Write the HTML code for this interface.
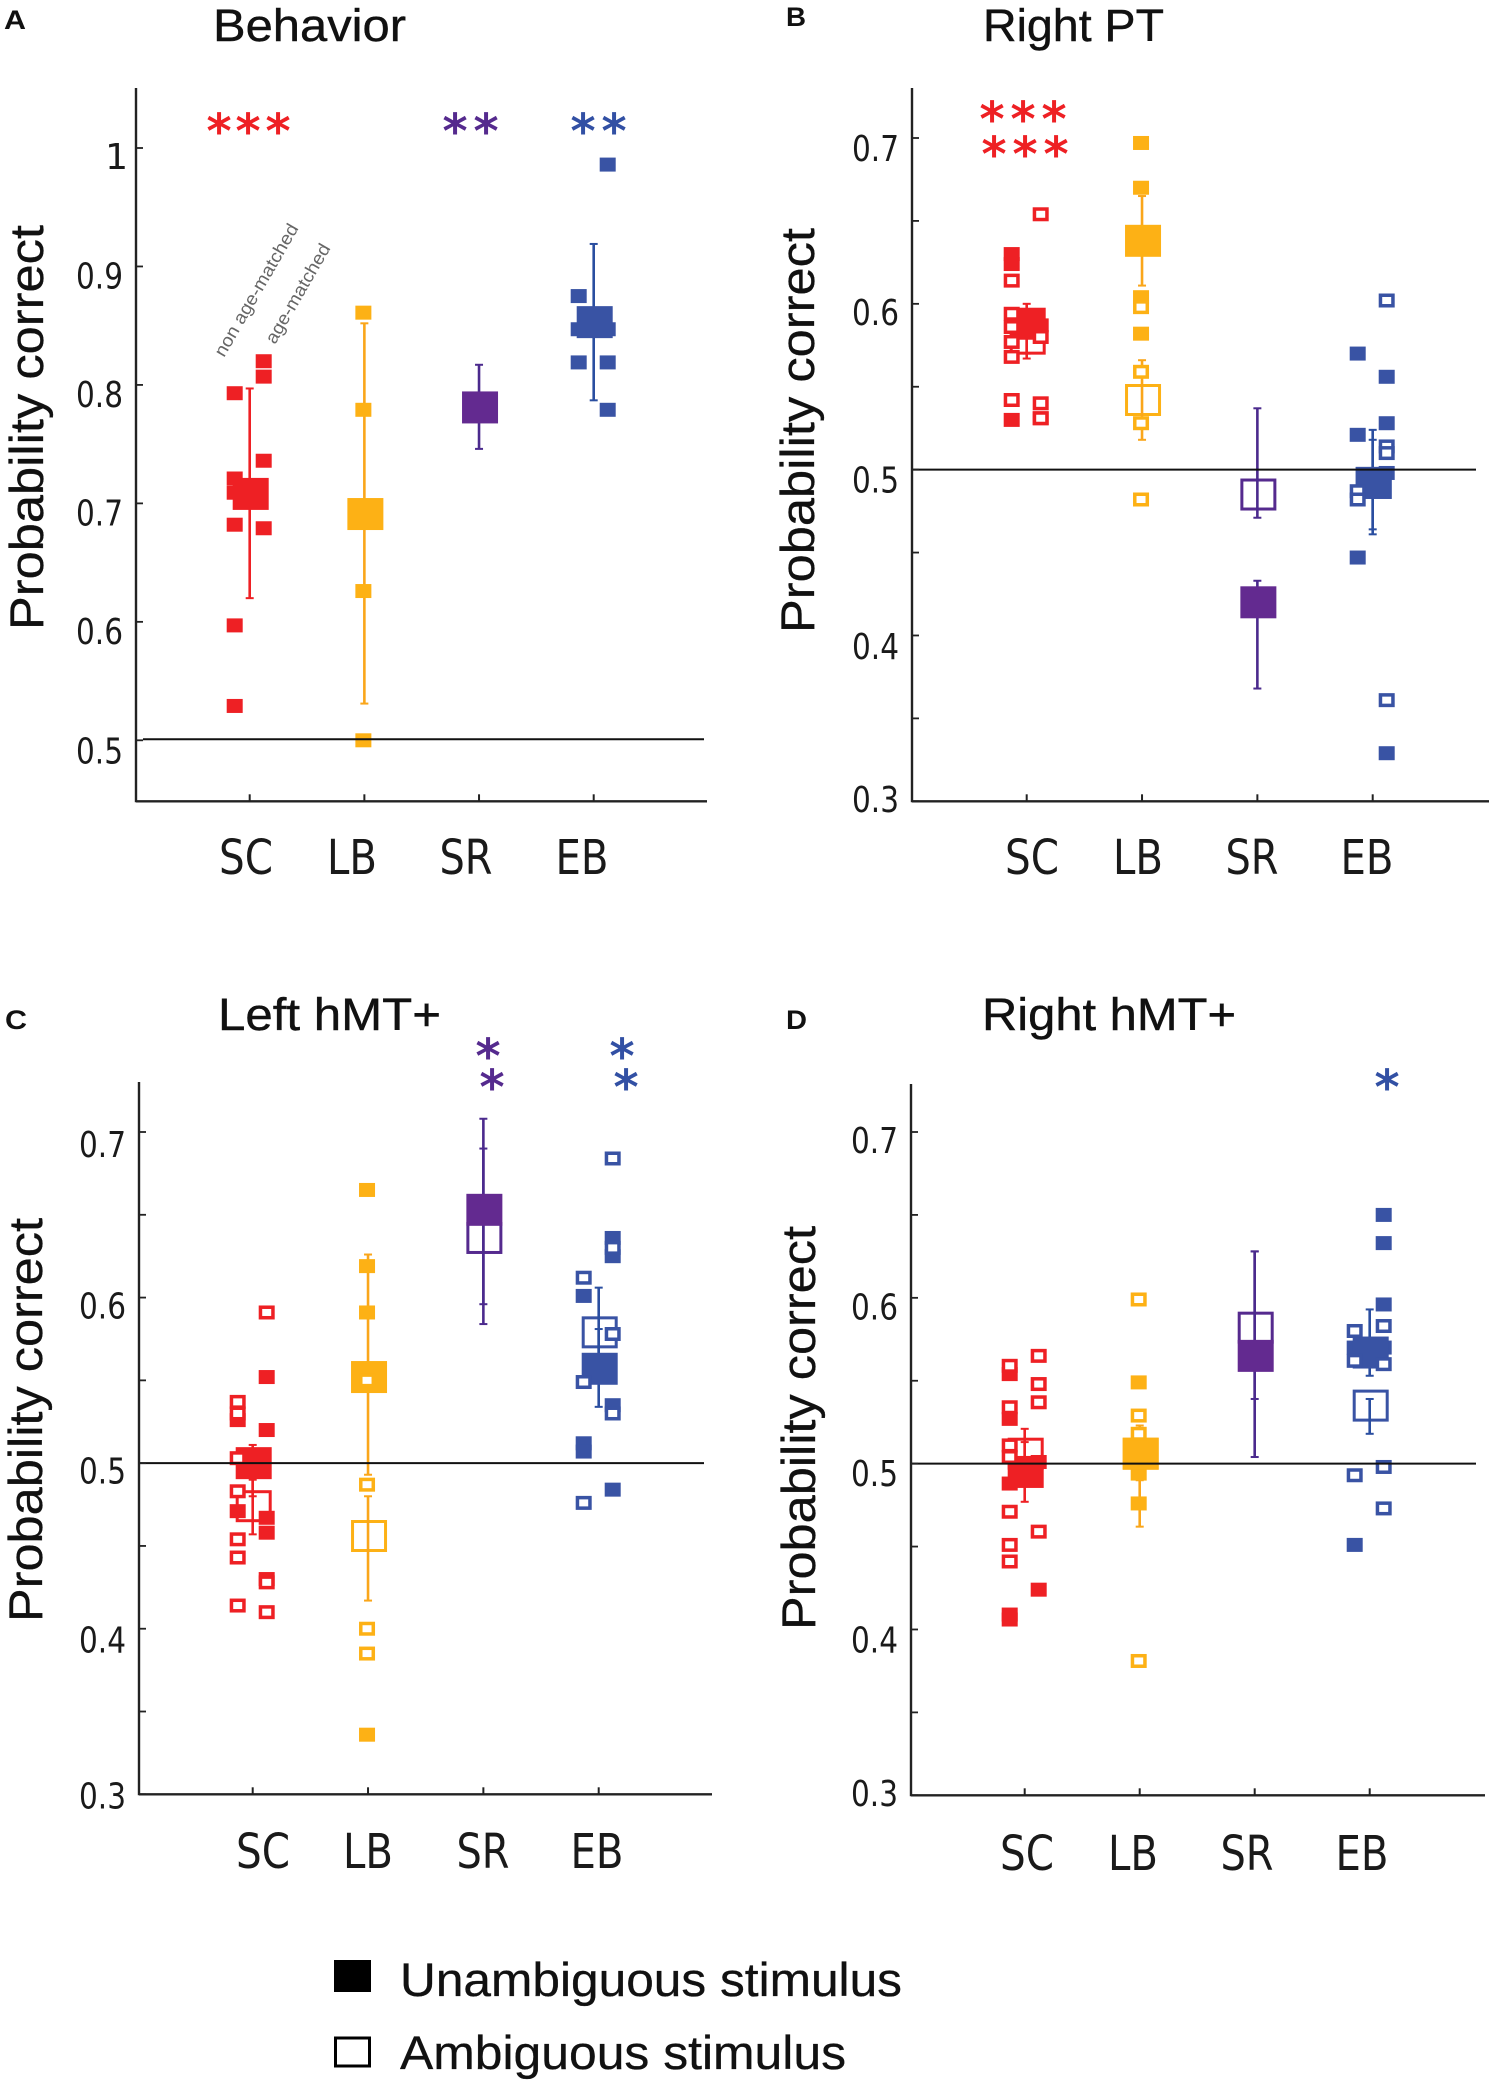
<!DOCTYPE html>
<html lang="en">
<head>
<meta charset="utf-8">
<title>Probability correct by group</title>
<style>
html,body{margin:0;padding:0;background:#fff;}
svg{display:block;}
text{font-family:"Liberation Sans",sans-serif;fill:#1a1a1a;}
.star{font-family:"DejaVu Sans",sans-serif;font-size:48px;font-weight:bold;text-anchor:middle;}
.letter{font-weight:bold;font-size:27px;fill:#111;}
.title{font-size:45px;fill:#111;stroke:#111;stroke-width:.4px;}
.ylab{font-size:47px;fill:#111;stroke:#111;stroke-width:.3px;}
.legend{font-size:47px;fill:#111;stroke:#111;stroke-width:.3px;}
.note{font-size:18px;fill:#666;}
</style>
</head>
<body>
<svg id="fig" xmlns="http://www.w3.org/2000/svg" width="1490" height="2088" viewBox="0 0 1490 2088">
<rect width="1490" height="2088" fill="#fff"/>

<text class="letter" x="4" y="29" textLength="22" lengthAdjust="spacingAndGlyphs">A</text>
<text class="letter" x="786" y="26" textLength="20" lengthAdjust="spacingAndGlyphs">B</text>
<text class="letter" x="5" y="1029" textLength="22" lengthAdjust="spacingAndGlyphs">C</text>
<text class="letter" x="786" y="1029" textLength="21" lengthAdjust="spacingAndGlyphs">D</text>

<text class="title" x="213" y="41" textLength="193" lengthAdjust="spacingAndGlyphs">Behavior</text>
<text class="title" x="983" y="41" textLength="181" lengthAdjust="spacingAndGlyphs">Right PT</text>
<text class="title" x="218" y="1030" textLength="223" lengthAdjust="spacingAndGlyphs">Left hMT+</text>
<text class="title" x="982" y="1030" textLength="254" lengthAdjust="spacingAndGlyphs">Right hMT+</text>

<text class="ylab" transform="translate(43,630) rotate(-90)" textLength="405" lengthAdjust="spacingAndGlyphs">Probability correct</text>
<text class="ylab" transform="translate(814,633) rotate(-90)" textLength="405" lengthAdjust="spacingAndGlyphs">Probability correct</text>
<text class="ylab" transform="translate(42,1622) rotate(-90)" textLength="404" lengthAdjust="spacingAndGlyphs">Probability correct</text>
<text class="ylab" transform="translate(815,1630) rotate(-90)" textLength="404" lengthAdjust="spacingAndGlyphs">Probability correct</text>

<text class="note" transform="translate(224,358) rotate(-60)" textLength="150" lengthAdjust="spacingAndGlyphs">non age-matched</text>
<text class="note" transform="translate(275,345) rotate(-60)" textLength="112" lengthAdjust="spacingAndGlyphs">age-matched</text>

<g>
<text class="star" style="fill:#ee2024" x="219" y="148">*</text><text class="star" style="fill:#ee2024" x="248" y="148">*</text><text class="star" style="fill:#ee2024" x="278" y="148">*</text>
</g>
<g>
<text class="star" style="fill:#552a8e" x="455" y="148">*</text><text class="star" style="fill:#552a8e" x="486" y="148">*</text>
</g>
<g>
<text class="star" style="fill:#3250a4" x="583" y="148">*</text><text class="star" style="fill:#3250a4" x="614" y="148">*</text>
</g>
<g>
<text class="star" style="fill:#ee2024" x="992" y="136">*</text><text class="star" style="fill:#ee2024" x="1023" y="136">*</text><text class="star" style="fill:#ee2024" x="1054" y="136">*</text>
<text class="star" style="fill:#ee2024" x="994" y="171">*</text><text class="star" style="fill:#ee2024" x="1025" y="171">*</text><text class="star" style="fill:#ee2024" x="1056" y="171">*</text>
</g>
<g>
<text class="star" style="fill:#552a8e" x="488" y="1073">*</text><text class="star" style="fill:#552a8e" x="492" y="1104">*</text>
</g>
<g>
<text class="star" style="fill:#3250a4" x="622" y="1073">*</text><text class="star" style="fill:#3250a4" x="626" y="1104">*</text>
</g>
<g>
<text class="star" style="fill:#3250a4" x="1387" y="1104">*</text>
</g>

<g>
<rect x="334" y="1960" width="37" height="32" fill="#000"/>
<text class="legend" x="400" y="1996" textLength="502" lengthAdjust="spacingAndGlyphs">Unambiguous stimulus</text>
<rect x="335.5" y="2038" width="34" height="28" fill="#fff" stroke="#000" stroke-width="3"/>
<text class="legend" x="400" y="2069" textLength="446" lengthAdjust="spacingAndGlyphs">Ambiguous stimulus</text>
</g>
</svg>

<script>
const categories = ['SC', 'LB', 'SR', 'EB'];
const behaviorTicks = ['0.5', '0.6', '0.7', '0.8', '0.9', '1'];
const roiTicks = ['0.3', '0.4', '0.5', '0.6', '0.7'];

// Each individual subject: [column (-1 non age-matched, 0 centre, 1 age-matched), probability correct]
const aFilled = [
  [[-1,.793],[-1,.721],[-1,.709],[-1,.682],[-1,.597],[-1,.529],[1,.820],[1,.807],[1,.736],[1,.679]],
  [[0,.861],[0,.779],[0,.626],[0,.5]],
  [],
  [[-1,.875],[-1,.847],[-1,.819],[1,.986],[1,.847],[1,.819],[1,.779]]
];
const aOpen = [[], [], [], []];
const aMeanFilled = [.708, .691, .781, .853];
const aMeanOpen = [null, null, null, null];
const aErrFilled = [[.620,.797], [.531,.852], [.746,.817], [.787,.919]];
const aErrOpen = [null, null, null, null];

const bFilled = [
  [[-1,.630],[-1,.624],[-1,.530],[1,.587],[1,.531]],
  [[0,.697],[0,.670],[0,.604],[0,.582]],
  [],
  [[-1,.570],[-1,.521],[-1,.447],[1,.556],[1,.528],[1,.498],[1,.329]]
];
const bOpen = [
  [[-1,.614],[-1,.594],[-1,.586],[-1,.577],[-1,.568],[-1,.542],[1,.654],[1,.580],[1,.540],[1,.531]],
  [[0,.598],[0,.559],[0,.528],[0,.482]],
  [],
  [[-1,.487],[-1,.482],[1,.602],[1,.514],[1,.510],[1,.361]]
];
const bMeanFilled = [.588, .638, .420, .492];
const bMeanOpen = [.579, .542, .485, .492];
const bErrFilled = [[.567,.600], [.611,.665], [.368,.433], [.464,.524]];
const bErrOpen = [[.570,.590], [.518,.566], [.471,.537], [.461,.518]];

const cFilled = [
  [[-1,.526],[-1,.471],[1,.552],[1,.520],[1,.467],[1,.458]],
  [[0,.665],[0,.619],[0,.591],[0,.336]],
  [],
  [[-1,.601],[-1,.512],[-1,.507],[1,.636],[1,.625],[1,.535],[1,.484]]
];
const cOpen = [
  [[-1,.537],[-1,.530],[-1,.503],[-1,.483],[-1,.454],[-1,.443],[-1,.414],[1,.591],[1,.430],[1,.428],[1,.410]],
  [[0,.550],[0,.487],[0,.400],[0,.385]],
  [],
  [[-1,.612],[-1,.549],[-1,.476],[1,.684],[1,.630],[1,.578],[1,.530]]
];
const cMeanFilled = [.500, .552, .653, .557];
const cMeanOpen = [.474, .456, .636, .579];
const cErrFilled = [[.480,.511], [.493,.626], [.596,.708], [.534,.581]];
const cErrOpen = [[.457,.490], [.417,.480], [.584,.690], [.550,.606]];

const dFilled = [
  [[-1,.554],[-1,.527],[-1,.488],[-1,.409],[-1,.406],[1,.501],[1,.424]],
  [[0,.549],[0,.494],[0,.476]],
  [],
  [[-1,.570],[-1,.451],[1,.650],[1,.633],[1,.596],[1,.570]]
];
const dOpen = [
  [[-1,.559],[-1,.534],[-1,.511],[-1,.504],[-1,.471],[-1,.451],[-1,.441],[1,.565],[1,.548],[1,.537],[1,.459]],
  [[0,.599],[0,.529],[0,.518],[0,.381]],
  [],
  [[-1,.580],[-1,.562],[-1,.493],[1,.583],[1,.560],[1,.498],[1,.473]]
];
const dMeanFilled = [.495, .506, .565, .567];
const dMeanOpen = [.506, .506, .582, .535];
const dErrFilled = [[.477,.513], [.462,.523], [.504,.628], [.553,.593]];
const dErrOpen = [[.490,.521], [.490,.515], [.539,.628], [.518,.539]];

const fillColors = ['#ee2024', '#fdb115', '#632a90', '#3953a4'];
const lineColors = ['#ee2024', '#faa61a', '#4b2a8d', '#2a4ea0'];

const svgNS = 'http://www.w3.org/2000/svg';
const fig = document.getElementById('fig');

function make(tag, attrs, parent) {
  const e = document.createElementNS(svgNS, tag);
  for (const k in attrs) e.setAttribute(k, attrs[k]);
  parent.appendChild(e);
  return e;
}

function drawPanel(p) {
  const g = make('g', {}, fig);
  
  

  // axis functions
  const yOf = v => p.y0 + (v - p.v0) * (p.y1 - p.y0) / (p.v1 - p.v0);
  const xOf = i => p.x0 + i * (p.x3 - p.x0) / 3;

  const colOffset = c => (c < 0 ? -15 : c > 0 ? 14 : -1);

  function smallMark(i, pt, open, parent) {
    const cx = xOf(i) + colOffset(pt[0]);
    const cy = yOf(pt[1]);
    let r;
    if (open) {
      r = make('rect', {x: cx - 6.25, y: cy - 5.25, width: 12.5, height: 10.5, fill: '#fff', stroke: fillColors[i], 'stroke-width': 3.5}, parent);
    } else {
      r = make('rect', {x: cx - 8, y: cy - 7, width: 16, height: 14, fill: fillColors[i]}, parent);
    }
    
    
  }

  function errBar(i, range, parent, open) {
    if (!range) return;
    const x = xOf(i);
    const top = yOf(range[1]);
    const bot = yOf(range[0]);
    const l = make('line', {x1: x, x2: x, y1: top, y2: bot, stroke: lineColors[i], 'stroke-width': 2.6}, parent);
    
    
    [top, bot].forEach(y => {
      const c = make('line', {x1: x - 4, x2: x + 4, y1: y, y2: y, stroke: lineColors[i], 'stroke-width': 2}, parent);
      
      
    });
  }

  function meanMark(i, v, open, parent) {
    if (v === null) return;
    const cx = xOf(i) + 1;
    const cy = yOf(v);
    let r;
    if (open) {
      r = make('rect', {x: cx - 16.5, y: cy - 14.5, width: 33, height: 29, fill: '#fff', stroke: fillColors[i] === '#632a90' ? '#552a8e' : fillColors[i], 'stroke-width': 3}, parent);
    } else {
      r = make('rect', {x: cx - 18, y: cy - 16, width: 36, height: 32, fill: fillColors[i]}, parent);
    }
    
    
  }

  categories.forEach((name, i) => {
    const cg = make('g', {}, g);
    
    
    meanMark(i, p.meanOpen[i], true, cg);
    errBar(i, p.errOpen[i], cg, true);
    errBar(i, p.errFilled[i], cg, false);
    p.filled[i].forEach(pt => smallMark(i, pt, false, cg));
    meanMark(i, p.meanFilled[i], false, cg);
    p.open[i].forEach(pt => smallMark(i, pt, true, cg));
  });

  // reference line at chance
  const ref = make('line', {x1: p.refStart, x2: p.refEnd, y1: yOf(0.5) + p.refShift, y2: yOf(0.5) + p.refShift, stroke: '#111', 'stroke-width': 2}, g);
  
  

  // axes
  const yAxis = make('line', {x1: p.axisX, x2: p.axisX, y1: p.top, y2: p.bottom + 1, stroke: '#222', 'stroke-width': 2.4}, g);
  
  
  const xAxis = make('line', {x1: p.axisX, x2: p.right, y1: p.bottom, y2: p.bottom, stroke: '#222', 'stroke-width': 2.4}, g);
  
  

  categories.forEach((name, i) => {
    const t = make('line', {x1: xOf(i), x2: xOf(i), y1: p.bottom, y2: p.bottom - 7, stroke: '#222', 'stroke-width': 2}, g);
    
    
    const lab = make('text', {x: p.catX[i], y: p.catY, 'text-anchor': 'middle', 'font-size': 48, textLength: p.catW[i], lengthAdjust: 'spacingAndGlyphs', style: 'fill:#1a1a1a;font-family:"DejaVu Sans",sans-serif'}, g);
    lab.textContent = name;
    
    
  });

  p.ticks.forEach((label, k) => {
    const v = parseFloat(label);
    const y = yOf(v);
    const t = make('line', {x1: p.axisX, x2: p.axisX + 7, y1: y, y2: y, stroke: '#222', 'stroke-width': 1.8}, g);
    
    
    const attrs = {x: label === '1' ? p.axisX - 8 : p.axisX - 13, y: y + p.labelDy[k], 'text-anchor': 'end', 'font-size': 36, style: 'fill:#1a1a1a;font-family:"DejaVu Sans",sans-serif'};
    if (label !== '1') { attrs.textLength = 47; attrs.lengthAdjust = 'spacingAndGlyphs'; }
    const lab = make('text', attrs, g);
    lab.textContent = label;
    
    
    if (p.minor && v < p.v1 - 0.01) {
      const my = yOf(v + 0.05);
      const m = make('line', {x1: p.axisX, x2: p.axisX + 7, y1: my, y2: my, stroke: '#222', 'stroke-width': 1.8}, g);
      
      
    }
  });
}

drawPanel({id:'behavior', ticks:behaviorTicks, v0:.5, v1:1, y0:740.3, y1:148, axisX:136, top:88, bottom:801.3, right:707,
  x0:249.7, x3:593.7, refStart:143, refEnd:704, refShift:-1, minor:false, labelDy:[23,22,22,22,22,21],
  catX:[246,352,466,582], catY:874, catW:[54,50,53,53],
  filled:aFilled, open:aOpen, meanFilled:aMeanFilled, meanOpen:aMeanOpen, errFilled:aErrFilled, errOpen:aErrOpen});

drawPanel({id:'right-pt', ticks:roiTicks, v0:.3, v1:.7, y0:801.3, y1:138, axisX:912, top:88, bottom:801.3, right:1489,
  x0:1026.7, x3:1372.7, refStart:912, refEnd:1476, refShift:0, minor:true, labelDy:[10.7,23.5,22.8,21,23],
  catX:[1032,1138,1252,1367], catY:874, catW:[54,50,53,53],
  filled:bFilled, open:bOpen, meanFilled:bMeanFilled, meanOpen:bMeanOpen, errFilled:bErrFilled, errOpen:bErrOpen});

drawPanel({id:'left-hmt', ticks:roiTicks, v0:.3, v1:.7, y0:1794.3, y1:1132, axisX:139, top:1082, bottom:1794.3, right:712,
  x0:252.7, x3:598.7, refStart:139, refEnd:704, refShift:0, minor:true, labelDy:[14.4,24,20.5,21,25],
  catX:[263,368,483,597], catY:1868, catW:[54,50,53,53],
  filled:cFilled, open:cOpen, meanFilled:cMeanFilled, meanOpen:cMeanOpen, errFilled:cErrFilled, errOpen:cErrOpen});

drawPanel({id:'right-hmt', ticks:roiTicks, v0:.3, v1:.7, y0:1795.3, y1:1132, axisX:911, top:1084, bottom:1795.3, right:1485,
  x0:1024.7, x3:1369.7, refStart:911, refEnd:1476, refShift:0, minor:true, labelDy:[10.7,23,22.3,21.6,21],
  catX:[1027,1133,1247,1362], catY:1870, catW:[54,50,53,53],
  filled:dFilled, open:dOpen, meanFilled:dMeanFilled, meanOpen:dMeanOpen, errFilled:dErrFilled, errOpen:dErrOpen});
</script>
</body>
</html>
